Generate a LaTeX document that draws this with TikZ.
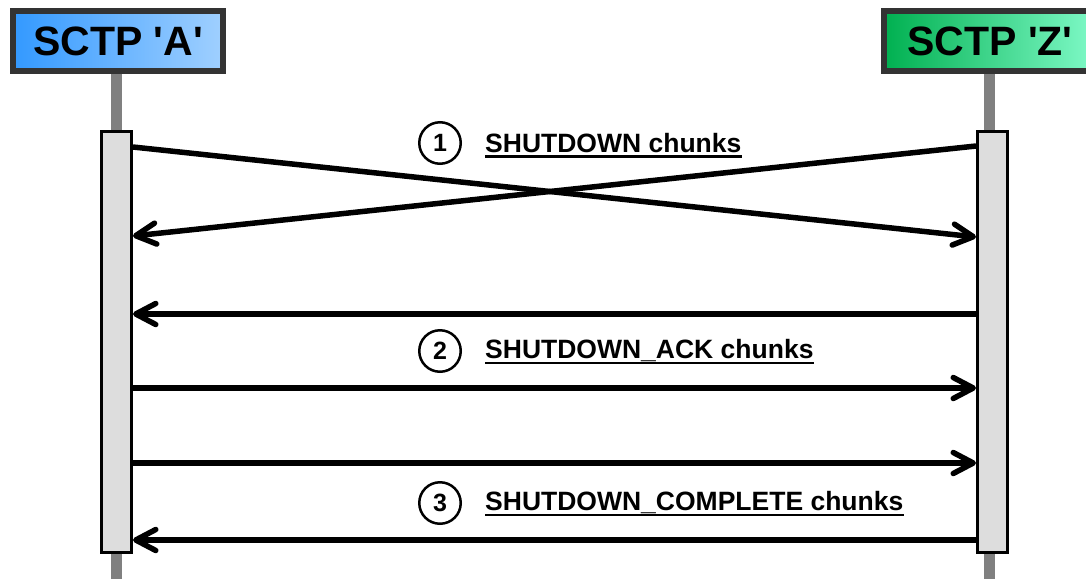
\documentclass[tikz,border=0pt]{standalone}
\usepackage{fontspec}
\setmainfont{Liberation Sans}
\usetikzlibrary{arrows.meta,positioning}
\tikzset{>/.tip={Straight Barb[round,length=20pt,width=21pt,line width=5.5pt]}}
\definecolor{frameGrey}{RGB}{51,51,51}
\definecolor{lifeGrey}{RGB}{128,128,128}
\definecolor{barGrey}{RGB}{221,221,221}
\definecolor{blueA}{RGB}{51,153,255}
\definecolor{blueL}{RGB}{160,208,255}
\definecolor{greenZ}{RGB}{0,176,80}
\definecolor{tealZ}{RGB}{0,204,140}
\definecolor{mintZ}{RGB}{128,250,200}
\newcommand{\peer}[1]{SCTP \textquotesingle #1\textquotesingle}

\begin{document}
\begin{tikzpicture}[x=1pt,y=-1pt,
    peer/.style={draw=frameGrey,line width=6pt,inner sep=0pt,minimum height=60pt,
      font=\bfseries\fontsize{41}{41}\selectfont},
    lifeline/.style={draw=lifeGrey,line width=11pt},
    bar/.style={draw,fill=barGrey,line width=3pt,inner sep=0pt,
      minimum width=30pt,minimum height=421pt},
    msg/.style={->,line width=5.5pt},
    stepnum/.style={circle,draw,line width=2.5pt,minimum size=41.5pt,inner sep=0pt,
      font=\bfseries\fontsize{25}{25}\selectfont},
    chunk/.style={inner sep=0pt,font=\bfseries\fontsize{26.5}{30}\selectfont},
    uline/.style={line width=2.5pt}]
  \useasboundingbox (0,0) rectangle (1086,579);
  % peers
  \node[peer,minimum width=210pt,left color=blueA,middle color=blueA,right color=blueL]
    (boxA) at (118,41) {\peer{A}};
  \node[peer,minimum width=212pt,left color=greenZ,middle color=tealZ,right color=mintZ]
    (boxZ) at (990,41) {\peer{Z}};
  \coordinate (lifeA) at (116,579);
  \coordinate (lifeZ) at (989,579);
  \draw[lifeline] (lifeA |- boxA.south) -- (lifeA);
  \draw[lifeline] (lifeZ |- boxZ.south) -- (lifeZ);
  \node[bar] (barA) at (116.5,342) {};
  \node[bar] (barZ) at (992.5,342) {};
  % ends of the messages
  \coordinate (a1) at (barA.east |- 0,147);
  \coordinate (a2) at (barA.east |- 0,236);
  \coordinate (a3) at (barA.east |- 0,314);
  \coordinate (a4) at (barA.east |- 0,388);
  \coordinate (a5) at (barA.east |- 0,463);
  \coordinate (a6) at (barA.east |- 0,540);
  \coordinate (z1) at (barZ.west |- 0,146);
  \coordinate (z2) at (barZ.west |- 0,237);
  \coordinate (z3) at (barZ.west |- 0,314);
  \coordinate (z4) at (barZ.west |- 0,388);
  \coordinate (z5) at (barZ.west |- 0,463);
  \coordinate (z6) at (barZ.west |- 0,540);
  \draw[msg] (a1) -- (z2);
  \draw[msg] (z1) -- (a2);
  \draw[msg] (z3) -- (a3);
  \draw[msg] (a4) -- (z4);
  \draw[msg] (a5) -- (z5);
  \draw[msg] (z6) -- (a6);
  % steps
  \node[stepnum] (n1) at (440,143) {1};
  \node[stepnum] (n2) at (440,351) {2};
  \node[stepnum] (n3) at (440,503) {3};
  \node[chunk,right=23pt of n1] (c1) {SHUTDOWN chunks};
  \node[chunk,right=23pt of n2] (c2) {SHUTDOWN\_ACK chunks};
  \node[chunk,right=23pt of n3] (c3) {SHUTDOWN\_COMPLETE chunks};
  \draw[uline] ([yshift=-4pt]c1.base west) -- ([yshift=-4pt]c1.base east);
  \draw[uline] ([yshift=-4pt]c2.base west) -- ([yshift=-4pt]c2.base east);
  \draw[uline] ([yshift=-4pt]c3.base west) -- ([yshift=-4pt]c3.base east);
\end{tikzpicture}
\end{document}
